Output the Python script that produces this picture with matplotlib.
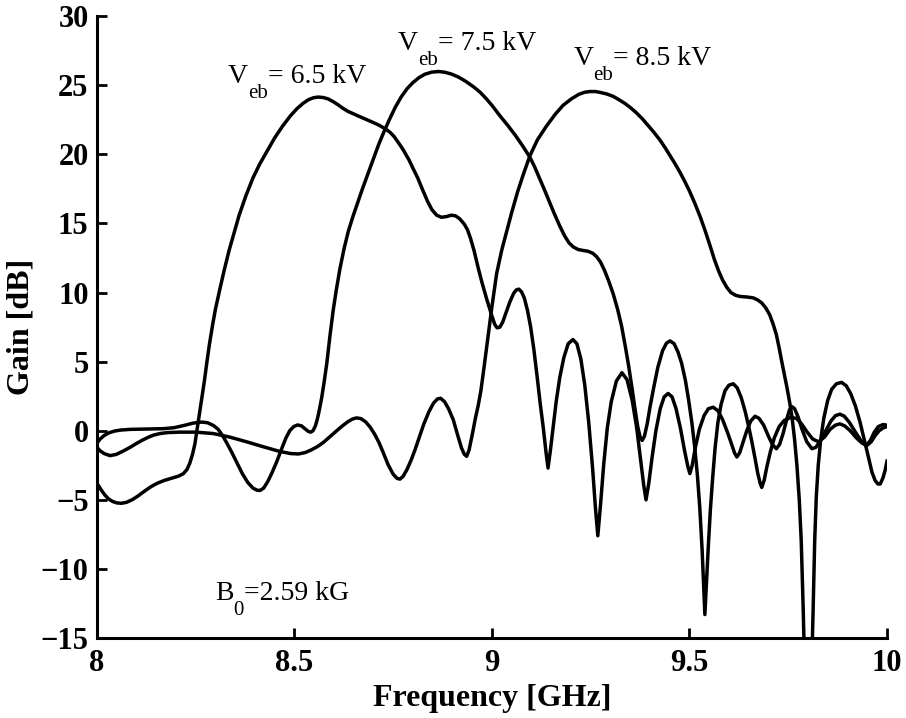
import matplotlib
matplotlib.use("Agg")
import matplotlib.pyplot as plt

plt.rcParams['font.family'] = ['Liberation Serif', 'DejaVu Serif']

# Veb = 6.5 kV
freq_a = [8.000, 8.010, 8.020, 8.030, 8.040, 8.050, 8.062, 8.075, 8.090, 8.105,
          8.120, 8.135, 8.151, 8.170, 8.193, 8.207, 8.219, 8.228, 8.235, 8.242,
          8.248, 8.256, 8.265, 8.272, 8.278, 8.285, 8.293, 8.300, 8.310, 8.322,
          8.335, 8.348, 8.360, 8.377, 8.395, 8.412, 8.430, 8.450, 8.470, 8.490,
          8.506, 8.522, 8.535, 8.548, 8.560, 8.572, 8.585, 8.598, 8.610, 8.622,
          8.635, 8.648, 8.660, 8.680, 8.700, 8.715, 8.730, 8.742, 8.752, 8.762,
          8.775, 8.790, 8.800, 8.812, 8.825, 8.837, 8.848, 8.860, 8.872, 8.885,
          8.897, 8.908, 8.918, 8.930, 8.938, 8.946, 8.955, 8.965, 8.975, 8.987,
          9.000, 9.007, 9.013, 9.020, 9.027, 9.035, 9.045, 9.055, 9.062, 9.068,
          9.075, 9.082, 9.090, 9.098, 9.106, 9.114, 9.122, 9.130, 9.137, 9.142,
          9.148, 9.155, 9.163, 9.172, 9.182, 9.193, 9.205, 9.215, 9.225, 9.235,
          9.245, 9.255, 9.262, 9.268, 9.275, 9.283, 9.292, 9.302, 9.315, 9.329,
          9.342, 9.355, 9.366, 9.376, 9.384, 9.390, 9.397, 9.405, 9.415, 9.426,
          9.436, 9.446, 9.456, 9.466, 9.477, 9.488, 9.496, 9.501, 9.507, 9.515,
          9.525, 9.537, 9.548, 9.560, 9.572, 9.584, 9.596, 9.607, 9.614, 9.620,
          9.627, 9.635, 9.645, 9.655, 9.666, 9.676, 9.688, 9.700, 9.710, 9.720,
          9.728, 9.737, 9.746, 9.753, 9.759, 9.766, 9.775, 9.785, 9.797, 9.810,
          9.820, 9.832, 9.845, 9.858, 9.870, 9.881, 9.892, 9.905, 9.920, 9.935,
          9.947, 9.958, 9.968, 9.978, 9.990, 10.000]
gain_a = [-3.8, -4.25, -4.65, -4.95, -5.12, -5.22, -5.25, -5.18, -4.98, -4.7,
          -4.38, -4.08, -3.82, -3.6, -3.4, -3.28, -3.1, -2.8, -2.35, -1.7,
          -0.95, 0.55, 2.2, 3.6, 4.9, 6.3, 7.7, 8.8, 10.1, 11.6,
          13.1, 14.4, 15.6, 17.0, 18.3, 19.3, 20.2, 21.2, 22.05, 22.8,
          23.3, 23.7, 23.95, 24.1, 24.15, 24.12, 24.02, 23.82, 23.6, 23.35,
          23.12, 22.95, 22.8, 22.55, 22.3, 22.1, 21.85, 21.6, 21.3, 20.9,
          20.35, 19.6, 19.0, 18.3, 17.4, 16.6, 16.0, 15.6, 15.45, 15.5,
          15.6, 15.55, 15.35, 14.95, 14.55, 13.9, 13.0, 11.8, 10.7, 9.5,
          8.3, 7.7, 7.45, 7.5, 7.85, 8.5, 9.3, 9.95, 10.2, 10.25,
          10.05, 9.6, 8.7, 7.5, 5.9, 4.0, 2.0, 0.2, -1.6, -2.7,
          -1.4, 0.3, 2.2, 3.9, 5.3, 6.3, 6.6, 6.3, 5.2, 3.3,
          0.6, -2.8, -5.6, -7.6, -5.3, -2.4, 0.2, 2.1, 3.6, 4.2,
          3.7, 2.2, 0.3, -2.0, -3.9, -5.0, -3.8, -2.0, 0.0, 1.6,
          2.45, 2.7, 2.45, 1.6, 0.2, -1.5, -2.6, -3.1, -2.5, -1.2,
          0.1, 1.1, 1.6, 1.7, 1.45, 0.8, -0.1, -1.0, -1.6, -1.9,
          -1.6, -0.9, 0.0, 0.7, 1.05, 0.9, 0.4, -0.4, -1.0, -1.3,
          -1.0, -0.2, 0.8, 1.5, 1.75, 1.6, 1.0, 0.1, -0.8, -1.3,
          -1.2, -0.7, 0.0, 0.7, 1.1, 1.2, 1.05, 0.6, -0.1, -0.75,
          -1.1, -0.7, -0.1, 0.3, 0.45, 0.4]

# Veb = 7.5 kV
freq_b = [8.000, 8.008, 8.018, 8.030, 8.045, 8.060, 8.084, 8.120, 8.168, 8.195,
          8.220, 8.243, 8.265, 8.280, 8.295, 8.307, 8.318, 8.330, 8.342, 8.355,
          8.368, 8.382, 8.395, 8.405, 8.413, 8.422, 8.432, 8.443, 8.455, 8.467,
          8.478, 8.488, 8.498, 8.508, 8.518, 8.528, 8.535, 8.541, 8.547, 8.553,
          8.558, 8.563, 8.569, 8.575, 8.582, 8.590, 8.598, 8.606, 8.615, 8.625,
          8.636, 8.648, 8.660, 8.672, 8.686, 8.700, 8.713, 8.726, 8.740, 8.755,
          8.770, 8.785, 8.800, 8.815, 8.830, 8.847, 8.864, 8.880, 8.897, 8.915,
          8.933, 8.953, 8.970, 8.985, 9.000, 9.020, 9.040, 9.060, 9.078, 9.096,
          9.108, 9.120, 9.132, 9.145, 9.158, 9.172, 9.184, 9.195, 9.206, 9.218,
          9.230, 9.242, 9.255, 9.265, 9.275, 9.285, 9.296, 9.307, 9.318, 9.328,
          9.337, 9.346, 9.355, 9.362, 9.369, 9.375, 9.380, 9.386, 9.393, 9.400,
          9.410, 9.420, 9.432, 9.442, 9.451, 9.461, 9.471, 9.480, 9.490, 9.498,
          9.506, 9.513, 9.520, 9.526, 9.532, 9.536, 9.539, 9.543, 9.548, 9.553,
          9.559, 9.565, 9.572, 9.580, 9.590, 9.600, 9.611, 9.621, 9.631, 9.641,
          9.650, 9.658, 9.666, 9.673, 9.679, 9.683, 9.689, 9.696, 9.705, 9.715,
          9.727, 9.740, 9.755, 9.771, 9.785, 9.798, 9.812, 9.827, 9.842, 9.856,
          9.869, 9.881, 9.893, 9.907, 9.922, 9.937, 9.950, 9.960, 9.970, 9.980,
          9.990, 10.000]
gain_b = [-0.9, -0.6, -0.35, -0.15, -0.02, 0.05, 0.1, 0.12, 0.15, 0.22,
          0.38, 0.55, 0.63, 0.58, 0.38, 0.1, -0.35, -0.95, -1.6, -2.35,
          -3.1, -3.75, -4.15, -4.3, -4.32, -4.15, -3.7, -3.05, -2.25, -1.35,
          -0.55, 0.0, 0.3, 0.42, 0.35, 0.12, -0.05, -0.1, 0.0, 0.35,
          0.85, 1.5, 2.4, 3.5, 4.9, 6.9, 8.7, 10.2, 11.7, 13.1,
          14.4, 15.5, 16.5, 17.5, 18.6, 19.7, 20.7, 21.6, 22.5, 23.4,
          24.15, 24.75, 25.2, 25.55, 25.8, 25.95, 26.0, 25.95, 25.82, 25.6,
          25.3, 24.9, 24.5, 24.05, 23.55, 22.8, 22.1, 21.35, 20.6, 19.8,
          19.1, 18.3, 17.5, 16.6, 15.7, 14.8, 14.1, 13.6, 13.3, 13.12,
          13.05, 13.0, 12.85, 12.6, 12.2, 11.6, 10.8, 9.9, 8.8, 7.6,
          6.2, 4.7, 3.0, 1.6, 0.3, -0.45, -0.7, -0.4, 0.5, 1.7,
          3.2, 4.6, 5.8, 6.35, 6.5, 6.3, 5.7, 4.9, 3.6, 2.2,
          0.6, -1.1, -3.2, -5.5, -8.6, -11.2, -13.3, -11.0, -8.2, -5.7,
          -3.3, -1.2, 0.6, 1.9, 2.9, 3.3, 3.4, 3.1, 2.4, 1.4,
          0.3, -0.8, -2.0, -3.1, -3.8, -4.1, -3.6, -2.6, -1.5, -0.5,
          0.3, 0.75, 0.95, 0.9, 0.45, -0.1, -0.6, -0.8, -0.45, 0.1,
          0.4, 0.5, 0.35, 0.0, -0.5, -0.9, -1.05, -0.8, -0.35, 0.0,
          0.2, 0.3]

# Veb = 8.5 kV
freq_c = [8.000, 8.008, 8.018, 8.033, 8.048, 8.063, 8.084, 8.100, 8.115, 8.130,
          8.143, 8.160, 8.180, 8.210, 8.250, 8.294, 8.335, 8.379, 8.420, 8.463,
          8.490, 8.510, 8.527, 8.543, 8.558, 8.573, 8.590, 8.605, 8.620, 8.635,
          8.647, 8.657, 8.668, 8.680, 8.692, 8.703, 8.714, 8.725, 8.737, 8.750,
          8.760, 8.767, 8.775, 8.785, 8.795, 8.805, 8.815, 8.827, 8.840, 8.852,
          8.862, 8.870, 8.880, 8.890, 8.902, 8.913, 8.923, 8.930, 8.936, 8.942,
          8.950, 8.958, 8.965, 8.972, 8.980, 8.990, 9.000, 9.012, 9.025, 9.037,
          9.050, 9.065, 9.080, 9.096, 9.115, 9.138, 9.160, 9.180, 9.200, 9.220,
          9.235, 9.248, 9.262, 9.275, 9.290, 9.307, 9.322, 9.336, 9.350, 9.366,
          9.380, 9.395, 9.410, 9.425, 9.438, 9.450, 9.463, 9.476, 9.488, 9.500,
          9.513, 9.527, 9.540, 9.552, 9.563, 9.574, 9.584, 9.594, 9.605, 9.617,
          9.628, 9.645, 9.661, 9.672, 9.683, 9.693, 9.703, 9.712, 9.720, 9.727,
          9.733, 9.740, 9.747, 9.754, 9.760, 9.766, 9.772, 9.778, 9.783, 9.788,
          9.794, 9.800, 9.807, 9.813, 9.817, 9.821, 9.826, 9.832, 9.840, 9.850,
          9.860, 9.872, 9.885, 9.897, 9.908, 9.920, 9.932, 9.943, 9.953, 9.962,
          9.970, 9.977, 9.983, 9.990, 9.995, 10.000]
gain_c = [-1.2, -1.45, -1.65, -1.8, -1.72, -1.52, -1.2, -0.92, -0.68, -0.47,
          -0.32, -0.2, -0.13, -0.1, -0.1, -0.2, -0.45, -0.8, -1.15, -1.5,
          -1.65, -1.68, -1.58, -1.38, -1.15, -0.85, -0.42, -0.05, 0.32, 0.65,
          0.85, 0.93, 0.88, 0.65, 0.25, -0.25, -0.85, -1.6, -2.45, -3.15,
          -3.45, -3.5, -3.3, -2.8, -2.15, -1.4, -0.55, 0.45, 1.35, 2.0,
          2.3, 2.35, 2.1, 1.6, 0.8, -0.3, -1.25, -1.7, -1.85, -1.4,
          -0.3, 0.9, 1.8, 2.9, 4.6, 6.8, 9.0, 11.4, 13.1, 14.4,
          15.8, 17.3, 18.6, 19.9, 21.05, 22.05, 22.9, 23.55, 24.0, 24.35,
          24.5, 24.55, 24.55, 24.48, 24.38, 24.2, 23.95, 23.7, 23.4, 23.0,
          22.6, 22.1, 21.6, 21.05, 20.5, 19.95, 19.35, 18.7, 18.05, 17.35,
          16.5, 15.5, 14.45, 13.4, 12.4, 11.55, 10.9, 10.4, 10.0, 9.8,
          9.72, 9.68, 9.62, 9.48, 9.25, 8.9, 8.4, 7.7, 6.95, 6.0,
          5.1, 4.1, 3.1, 2.0, 0.9, -0.6, -2.5, -5.0, -8.0, -13.0,
          -20.0, -25.0, -20.0, -13.0, -8.0, -4.8, -2.5, -0.7, 0.9, 2.2,
          3.0, 3.4, 3.5, 3.25, 2.7, 1.8, 0.6, -0.7, -1.9, -3.0,
          -3.6, -3.85, -3.85, -3.4, -2.9, -2.2]

x_ticks = [8, 8.5, 9, 9.5, 10]
x_tick_labels = ['8', '8.5', '9', '9.5', '10']
y_ticks = [-15, -10, -5, 0, 5, 10, 15, 20, 25, 30]

fig = plt.figure(figsize=(9.06, 7.18), dpi=100)
ax = fig.add_axes([0.107, 0.1114, 0.872, 0.866])

for f, g in [(freq_a, gain_a), (freq_b, gain_b), (freq_c, gain_c)]:
    ax.plot(f, g, color='black', lw=2.5, solid_joinstyle='round')

ax.set_xlim(8, 10)
ax.set_ylim(-15, 30)
ax.set_xticks(x_ticks)
ax.set_xticklabels(x_tick_labels)
ax.set_yticks(y_ticks)
ax.set_yticklabels([str(v).replace('-', '\u2212') for v in y_ticks])

for side in ['top', 'right']:
    ax.spines[side].set_visible(False)
for side in ['left', 'bottom']:
    ax.spines[side].set_linewidth(2.2)

ax.tick_params(direction='in', length=7, width=2, labelsize=22)
ax.tick_params(axis='x', pad=8)
ax.tick_params(axis='y', pad=6)
plt.setp(ax.get_xticklabels(), fontweight='bold')
plt.setp(ax.get_yticklabels(), fontweight='bold')

ax.set_xlabel('Frequency [GHz]', fontsize=23, fontweight='bold', labelpad=4)
ax.set_ylabel('Gain [dB]', fontsize=23, fontweight='bold', labelpad=4)

renderer = fig.canvas.get_renderer()


def sub_text(x, y, main, sub, rest, size=20):
    # MATLAB-style subscript: main text, lowered smaller text, then the rest
    t = ax.text(x, y, main, fontsize=size)
    w1 = t.get_window_extent(renderer=renderer).width * 72 / fig.dpi
    s = ax.annotate(sub, (x, y), xytext=(w1, -0.54 * size),
                    textcoords='offset points', fontsize=0.75 * size)
    w2 = s.get_window_extent(renderer=renderer).width * 72 / fig.dpi
    ax.annotate(rest, (x, y), xytext=(w1 + w2, 0),
                textcoords='offset points', fontsize=size)


sub_text(8.332, 25.16, 'V', 'eb', '= 6.5 kV')
sub_text(8.762, 27.56, 'V', 'eb', '= 7.5 kV')
sub_text(9.206, 26.48, 'V', 'eb', '= 8.5 kV')
sub_text(8.299, -12.27, 'B', '0', '=2.59 kG')

fig.savefig('out.png', dpi=100)
